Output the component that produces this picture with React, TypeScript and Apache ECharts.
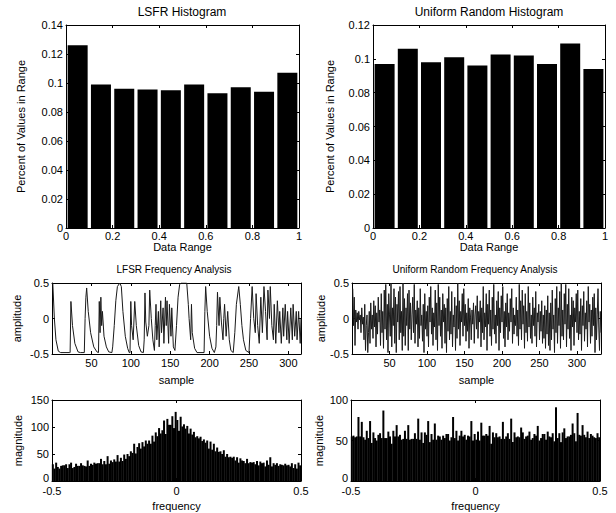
import React, { useEffect, useRef } from "react";
import * as echarts from "echarts";

// ---------- DATA ----------
const histCenters = [0.05, 0.15, 0.25, 0.35, 0.45, 0.55, 0.65, 0.75, 0.85, 0.95];
const lfsrHist = [0.126, 0.099, 0.096, 0.0955, 0.095, 0.099, 0.093, 0.097, 0.094, 0.107];
const uniformHist = [0.097, 0.106, 0.098, 0.101, 0.096, 0.1025, 0.102, 0.097, 0.109, 0.094];

const histXTicks = { min: 0, max: 1, interval: 0.2 };
const lfsrHistYTicks = { min: 0, max: 0.14, interval: 0.02 };
const uniformHistYTicks = { min: 0, max: 0.12, interval: 0.02 };

// LFSR time signal: [sample, amplitude]
const lfsrSignal: [number, number][] = [
  [1, 0.5], [3, 0.0], [5, -0.3], [8, -0.46], [11, -0.48], [22, -0.48], [23, -0.48], [24, 0.24], [26, -0.1], [29, -0.35],
  [33, -0.47], [36, -0.48], [41, -0.48], [42, 0.0], [43, 0.3], [44, 0.43], [46, 0.1], [49, -0.2], [53, -0.4], [57, -0.47],
  [59, -0.48], [60, 0.24], [61, -0.2], [62, 0.3], [63, -0.1], [64, 0.1], [66, -0.25], [69, -0.4], [72, -0.47], [76, -0.48],
  [77, -0.4], [79, -0.1], [81, 0.25], [83, 0.45], [86, 0.5], [88, 0.45], [90, 0.1], [93, -0.25], [96, -0.42], [98, -0.48],
  [99, -0.48], [100, 0.24], [101, -0.1], [103, -0.3], [105, 0.24], [107, -0.1], [110, -0.38], [113, -0.47], [116, -0.48], [117, -0.3],
  [118, 0.36], [119, -0.05], [121, -0.25], [123, -0.1], [124, 0.4], [126, 0.0], [128, -0.3], [130, -0.45], [131, -0.1], [132, 0.2],
  [133, -0.3], [135, 0.1], [136, -0.4], [138, 0.25], [139, -0.2], [141, 0.15], [142, -0.35], [144, 0.3], [145, -0.1], [146, 0.25],
  [148, -0.35], [149, 0.2], [151, -0.25], [152, 0.15], [154, -0.4], [156, -0.45], [158, -0.1], [160, 0.3], [162, 0.48], [164, 0.5],
  [171, 0.5], [173, 0.2], [174, 0.0], [176, -0.3], [177, 0.2], [178, -0.2], [181, -0.42], [184, -0.48], [193, -0.48], [194, 0.1],
  [195, 0.45], [197, 0.1], [200, -0.25], [203, -0.42], [206, -0.48], [208, -0.4], [209, -0.1], [210, 0.37], [212, -0.1], [213, 0.3],
  [215, -0.05], [217, -0.3], [218, 0.0], [219, 0.2], [221, -0.25], [223, 0.1], [225, -0.3], [227, -0.45], [230, -0.48], [232, -0.2],
  [234, 0.2], [237, 0.45], [239, 0.2], [241, -0.1], [243, -0.3], [246, -0.45], [250, -0.48], [252, 0.0], [254, 0.45], [256, 0.0],
  [258, -0.2], [259, 0.35], [261, -0.1], [263, -0.35], [265, 0.3], [267, -0.2], [269, 0.45], [271, 0.1], [273, -0.3], [274, 0.4],
  [276, 0.0], [277, 0.45], [279, -0.1], [281, -0.3], [282, 0.2], [284, -0.35], [286, 0.25], [288, -0.2], [289, 0.1], [291, -0.35],
  [293, 0.15], [294, -0.25], [296, 0.2], [298, -0.3], [299, 0.1], [301, -0.35], [303, 0.15], [305, -0.3], [306, 0.2], [308, -0.25],
  [310, 0.1], [311, -0.3], [313, 0.1], [315, -0.35], [316, 0.0],
];

// Uniform random time signal (one value per sample, starting at sample 1)
const uniformSignal = [
  0.42, -0.10, 0.30, -0.38, 0.12, -0.05, 0.08, -0.15, 0.10, -0.02,
  0.05, -0.20, 0.15, -0.08, 0.02, -0.30, 0.20, -0.45, -0.10, 0.05,
  -0.48, -0.20, 0.10, -0.35, 0.22, -0.15, 0.05, -0.28, 0.25, -0.12,
  0.18, -0.40, 0.08, -0.22, 0.30, -0.05, 0.12, -0.38, 0.35, -0.20,
  0.10, -0.42, 0.40, -0.15, 0.48, -0.30, 0.20, -0.48, 0.35, 0.05,
  -0.25, 0.50, -0.40, 0.15, -0.10, 0.42, -0.35, 0.30, -0.48, 0.20,
  -0.05, 0.38, -0.30, 0.45, -0.20, 0.10, -0.45, 0.50, -0.25, 0.28,
  -0.38, 0.15, -0.10, 0.35, -0.45, 0.40, -0.15, 0.22, -0.30, 0.05,
  0.30, -0.20, 0.48, -0.35, 0.12, -0.08, 0.25, -0.40, 0.15, -0.28,
  0.42, -0.10, 0.05, -0.32, 0.20, -0.48, 0.35, -0.15, 0.10, -0.25,
  0.18, -0.40, 0.30, -0.05, 0.45, -0.22, 0.15, -0.38, 0.08, -0.12,
  0.40, -0.30, 0.22, -0.45, 0.48, -0.10, 0.30, -0.25, 0.12, -0.42,
  0.35, -0.05, 0.20, -0.35, 0.15, -0.48, 0.28, -0.18, 0.45, -0.30,
  0.10, -0.22, 0.38, -0.40, 0.05, -0.12, 0.30, -0.45, 0.18, -0.28,
  0.50, -0.15, 0.25, -0.38, 0.10, -0.05, 0.35, -0.25, 0.42, -0.10,
  0.20, -0.32, 0.08, -0.18, 0.28, -0.42, 0.15, 0.02, -0.30, 0.12,
  -0.08, 0.22, -0.35, 0.05, 0.18, -0.15, 0.32, -0.28, 0.10, -0.05,
  0.25, -0.40, 0.15, -0.20, 0.45, -0.30, 0.08, -0.12, 0.35, -0.45,
  0.20, -0.08, 0.40, -0.25, 0.12, -0.38, 0.30, -0.15, 0.48, -0.22,
  0.05, -0.35, 0.25, -0.10, 0.38, -0.45, 0.15, -0.20, 0.32, -0.05,
  0.45, -0.28, 0.10, -0.40, 0.22, -0.12, 0.35, -0.30, 0.08, -0.18,
  0.28, -0.05, 0.42, -0.35, 0.15, -0.22, 0.05, -0.10, 0.30, -0.25,
  0.12, -0.38, 0.48, -0.15, 0.25, -0.30, 0.40, -0.08, 0.18, -0.42,
  0.35, -0.20, 0.10, -0.32, 0.45, -0.12, 0.22, -0.28, 0.05, -0.35,
  0.30, -0.10, 0.15, -0.25, 0.38, -0.40, 0.08, -0.05, 0.20, -0.30,
  0.10, -0.18, 0.25, -0.35, 0.05, -0.28, 0.18, -0.42, 0.12, -0.22,
  0.32, -0.38, 0.08, -0.45, 0.22, -0.30, 0.40, -0.15, 0.05, -0.48,
  0.28, -0.20, 0.45, -0.35, 0.15, -0.10, 0.38, -0.42, 0.50, -0.25,
  0.12, -0.30, 0.35, -0.08, 0.48, -0.40, 0.20, -0.15, 0.42, -0.28,
  0.05, -0.45, 0.30, -0.12, 0.25, -0.38, 0.15, -0.05, 0.35, -0.20,
  0.40, -0.30, 0.10, -0.22, 0.28, -0.45, 0.18, -0.10, 0.38, -0.32,
  0.08, -0.15, 0.25, -0.40, 0.45, -0.05, 0.20, -0.35, 0.12, -0.25,
  0.30, -0.10, 0.35, -0.48, 0.15, -0.30, 0.05, 0.42, -0.12, -0.45,
  0.10, -0.20,
];

// Spectrum magnitudes (peaks and floors, from frequency -0.5 to 0.5)
const lfsrSpecPeaks = [
  33, 28, 35, 30, 26, 34, 31, 29, 36, 27, 32, 38, 30, 28, 35, 33, 29, 37, 31, 34, 30, 39, 33, 36, 32, 41, 35, 38, 34, 45,
  37, 40, 36, 48, 39, 42, 38, 46, 41, 50, 44, 47, 43, 52, 48,
  55, 50, 63, 58, 72, 60, 68, 77, 64, 80, 70, 85, 74, 82, 78,
  90, 84, 98, 88, 110, 95, 104, 118, 100, 124, 108, 115, 128, 112, 138,
  120, 105, 125, 110, 118, 102, 112, 96, 108, 92, 100, 88, 95, 84, 90,
  80, 86, 75, 82, 70, 78, 66, 72, 62, 68, 58, 64, 55, 60, 52,
  56, 48, 53, 45, 50, 44, 47, 41, 46, 40, 43, 38, 44, 37, 41,
  36, 40, 34, 38, 33, 42, 35, 37, 32, 39, 34, 46, 33, 36, 31, 38, 30, 35, 33, 29, 37, 31, 34, 28, 36, 30, 33, 27, 35, 32,
];
const lfsrSpecFloors = [
  2, 5, 1, 4, 3, 6, 2, 0, 5, 3, 1, 4, 6, 2, 3, 5, 1, 4, 2, 6, 3, 1, 5, 4, 2, 7, 3, 5, 1, 4,
  6, 3, 5, 2, 7, 4, 3, 6, 5, 2, 8, 4, 6, 3, 7, 5, 4, 8, 6, 3, 9, 5, 7, 4, 8, 6, 10, 5, 7, 9,
  6, 11, 8, 5, 12, 7, 10, 6, 13, 9, 4, 11, 8, 14, 10, 7, 12, 6, 9, 13, 5, 10, 8, 11, 6, 9, 7, 12, 5, 8,
  6, 9, 4, 7, 10, 5, 8, 3, 7, 6, 4, 9, 5, 3, 7, 6, 4, 8, 2, 5, 6, 3, 7, 4, 2, 6, 5, 3, 4, 6,
  2, 5, 3, 1, 4, 6, 2, 3, 5, 1, 4, 2, 6, 3, 1, 5, 2, 4, 3, 0, 5, 2, 4, 1, 3, 6, 2, 4, 1, 3,
];
const uniformSpecPeaks = [
  58, 62, 55, 60, 87, 57, 77, 61, 54, 63, 59, 78, 56, 62, 58, 53, 64, 60, 57, 93, 55, 61, 66, 58, 52, 63, 59, 76, 57, 62,
  55, 60, 64, 58, 72, 56, 61, 53, 63, 59, 80, 57, 62, 55, 65, 58, 78, 54, 61, 60, 73, 56, 63, 58, 52, 62, 57, 66, 60, 55,
  61, 82, 58, 63, 56, 60, 70, 57, 62, 54, 65, 59, 75, 56, 61, 58, 63, 55, 80, 60, 57, 64, 59, 73, 55, 62, 58, 66, 57, 61,
  54, 78, 60, 56, 63, 58, 80, 55, 62, 59, 64, 57, 72, 61, 56, 63, 58, 66, 54, 60, 62, 57, 74, 59, 55, 63, 61, 58, 65, 56,
  60, 62, 57, 93, 58, 63, 55, 61, 68, 59, 64, 57, 62, 75, 60, 56, 87, 63, 58, 77, 61, 59, 62, 56, 65, 58, 60, 57, 62, 59,
];
const uniformSpecFloors = [
  3, 6, 1, 5, 8, 2, 4, 7, 3, 1, 6, 4, 9, 2, 5, 3, 7, 1, 4, 6, 2, 8, 5, 3, 6, 1, 4, 7, 2, 5,
  4, 8, 2, 6, 3, 5, 9, 1, 4, 7, 3, 6, 2, 8, 5, 1, 4, 6, 3, 9, 2, 5, 7, 3, 1, 6, 4, 8, 2, 5,
  7, 3, 5, 1, 6, 4, 8, 2, 5, 3, 9, 4, 1, 6, 3, 7, 2, 5, 8, 4, 1, 6, 3, 5, 9, 2, 4, 7, 3, 6,
  2, 5, 8, 1, 4, 6, 3, 7, 2, 5, 9, 3, 6, 1, 4, 8, 2, 5, 3, 7, 4, 1, 6, 9, 2, 5, 3, 7, 4, 1,
  6, 3, 8, 2, 5, 4, 7, 1, 3, 6, 9, 2, 5, 4, 1, 7, 3, 6, 2, 8, 4, 5, 1, 3, 7, 2, 6, 4, 3, 5,
];

// ---------- HELPERS ----------
const FONT = '"Liberation Sans", Arial, Helvetica, sans-serif';
const txt = { fontFamily: FONT, fontSize: 11, color: "#000" };

// frequency position of the i-th spectrum column (N columns spanning -0.5..0.5)
const freqAt = (i: number, n: number) => -0.5 + (i + 0.5) / n;

type AxSpec = {
  min: number;
  max: number;
  interval: number;
  fmt: (v: number) => string;
  name: string;
  nameGap: number;
  margin?: number;
};

function axisPair(kind: "x" | "y", g: number, s: AxSpec) {
  const line = { show: true, onZero: false, lineStyle: { color: "#000", width: 1 } };
  const tick = { show: true, inside: true, length: 3, lineStyle: { color: "#000", width: 1 } };
  const base = {
    type: "value",
    gridIndex: g,
    min: s.min,
    max: s.max,
    interval: s.interval,
    axisLine: line,
    axisTick: tick,
    splitLine: { show: false },
  };
  const primary = {
    ...base,
    position: kind === "x" ? "bottom" : "left",
    axisLabel: {
      ...txt,
      margin: s.margin ?? 3,
      formatter: s.fmt,
      showMinLabel: true,
      showMaxLabel: true,
      hideOverlap: false,
      rich: { lo: { ...txt, padding: [0, 0, 7, 0] } },
    },
    name: s.name,
    nameLocation: "middle",
    nameGap: s.nameGap,
    nameTextStyle: { ...txt },
  };
  const secondary = {
    ...base,
    position: kind === "x" ? "top" : "right",
    axisLabel: { show: false },
  };
  return [primary, secondary];
}

const fmt2 = (v: number) => String(Math.round(v * 100) / 100);
const fmt1 = (v: number) => String(Math.round(v * 10) / 10);
const fmtMag = (v: number) => (v === 0 ? "{lo|0}" : String(Math.round(v)));
const fmtSample = (v: number) => (v > 0 && Math.round(v) % 50 === 0 ? String(Math.round(v)) : "");

function spectrumSeries(axis: number, stack: string, peaks: number[], floors: number[]) {
  const n = peaks.length;
  return [
    {
      type: "bar",
      xAxisIndex: axis,
      yAxisIndex: axis,
      stack,
      barWidth: 2,
      itemStyle: { color: "rgba(0,0,0,0)" },
      data: floors.map((f, i) => [freqAt(i, n), f]),
    },
    {
      type: "bar",
      xAxisIndex: axis,
      yAxisIndex: axis,
      stack,
      barWidth: 2,
      itemStyle: { color: "#000" },
      data: peaks.map((p, i) => [freqAt(i, n), p - floors[i]]),
    },
  ];
}

export default function App() {
  const ref = useRef<HTMLDivElement>(null);

  useEffect(() => {
    document.body.style.margin = "0";
    if (!ref.current) return;
    const chart = echarts.init(ref.current, undefined, { renderer: "svg" });

    const grids = [
      { left: 66, top: 25, width: 233, height: 203 },
      { left: 373, top: 25, width: 232, height: 203 },
      { left: 52, top: 283, width: 249, height: 71 },
      { left: 352, top: 283, width: 249, height: 71 },
      { left: 52, top: 400, width: 249, height: 81 },
      { left: 351, top: 400, width: 249, height: 81 },
    ];

    const xSpecs: AxSpec[] = [
      { ...histXTicks, fmt: fmt1, name: "Data Range", nameGap: 11, margin: 2 },
      { ...histXTicks, fmt: fmt1, name: "Data Range", nameGap: 11, margin: 2 },
      { min: 0, max: 316, interval: 50, fmt: fmtSample, name: "sample", nameGap: 20 },
      { min: 0, max: 332, interval: 50, fmt: fmtSample, name: "sample", nameGap: 20 },
      { min: -0.5, max: 0.5, interval: 0.5, fmt: fmt1, name: "frequency", nameGap: 19, margin: 4 },
      { min: -0.5, max: 0.5, interval: 0.5, fmt: fmt1, name: "frequency", nameGap: 19, margin: 4 },
    ];
    const ySpecs: AxSpec[] = [
      { ...lfsrHistYTicks, fmt: fmt2, name: "Percent of Values in Range", nameGap: 40 },
      { ...uniformHistYTicks, fmt: fmt2, name: "Percent of Values in Range", nameGap: 38 },
      { min: -0.5, max: 0.5, interval: 0.5, fmt: fmt1, name: "amplitude", nameGap: 30 },
      { min: -0.5, max: 0.5, interval: 0.5, fmt: fmt1, name: "amplitude", nameGap: 26 },
      { min: 0, max: 150, interval: 50, fmt: fmtMag, name: "magnitude", nameGap: 29 },
      { min: 0, max: 100, interval: 50, fmt: fmtMag, name: "magnitude", nameGap: 27 },
    ];

    const xAxis: any[] = [];
    const yAxis: any[] = [];
    grids.forEach((_, g) => {
      xAxis.push(...axisPair("x", g, xSpecs[g]));
      yAxis.push(...axisPair("y", g, ySpecs[g]));
    });

    const titleStyle = { ...txt, fontWeight: "normal" as const };
    const option: any = {
      animation: false,
      backgroundColor: "#fff",
      title: [
        { text: "LSFR Histogram", left: 182, top: 6, padding: 0, textAlign: "center", textStyle: { ...titleStyle, fontSize: 12 } },
        { text: "Uniform Random Histogram", left: 489, top: 6, padding: 0, textAlign: "center", textStyle: { ...titleStyle, fontSize: 12 } },
        { text: "LFSR Frequency Analysis", left: 174, top: 264, padding: 0, textAlign: "center", textStyle: { ...titleStyle, fontSize: 10 } },
        { text: "Uniform Random Frequency Analysis", left: 475, top: 264, padding: 0, textAlign: "center", textStyle: { ...titleStyle, fontSize: 10 } },
      ],
      grid: grids,
      xAxis,
      yAxis,
      series: [
        {
          type: "bar",
          xAxisIndex: 0,
          yAxisIndex: 0,
          barWidth: 20,
          itemStyle: { color: "#000" },
          data: histCenters.map((c, i) => [c, lfsrHist[i]]),
        },
        {
          type: "bar",
          xAxisIndex: 2,
          yAxisIndex: 2,
          barWidth: 20,
          itemStyle: { color: "#000" },
          data: histCenters.map((c, i) => [c, uniformHist[i]]),
        },
        {
          type: "line",
          xAxisIndex: 4,
          yAxisIndex: 4,
          showSymbol: false,
          lineStyle: { color: "#1a1a1a", width: 1 },
          data: lfsrSignal,
        },
        {
          type: "line",
          xAxisIndex: 6,
          yAxisIndex: 6,
          showSymbol: false,
          lineStyle: { color: "#1a1a1a", width: 1 },
          data: uniformSignal.map((v, i) => [i + 1, v]),
        },
        ...spectrumSeries(8, "lfsrSpec", lfsrSpecPeaks, lfsrSpecFloors),
        ...spectrumSeries(10, "uniSpec", uniformSpecPeaks, uniformSpecFloors),
      ],
    };

    chart.setOption(option);
    return () => chart.dispose();
  }, []);

  return <div ref={ref} style={{ width: 616, height: 513 }} />;
}
